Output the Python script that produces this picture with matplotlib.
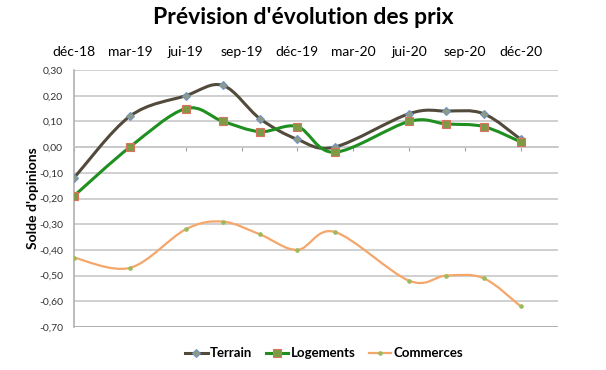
import numpy as np
import matplotlib.pyplot as plt
from matplotlib.path import Path
from matplotlib.patches import PathPatch
from matplotlib.lines import Line2D

plt.rcParams['font.family'] = ['Lato', 'DejaVu Sans']

# months since déc-18
months = [0, 3, 6, 8, 10, 12, 14, 18, 20, 22, 24]
terrain = [-0.12, 0.12, 0.20, 0.24, 0.11, 0.03, 0.00, 0.13, 0.14, 0.13, 0.03]
logements = [-0.19, 0.00, 0.15, 0.10, 0.06, 0.08, -0.02, 0.10, 0.09, 0.08, 0.02]
commerces = [-0.43, -0.47, -0.32, -0.29, -0.34, -0.40, -0.33, -0.52, -0.50, -0.51, -0.62]

tick_months = [0, 3, 6, 9, 12, 15, 18, 21, 24]
tick_labels = ['déc-18', 'mar-19', 'jui-19', 'sep-19', 'déc-19',
               'mar-20', 'jui-20', 'sep-20', 'déc-20']
y_ticks = [-0.70, -0.60, -0.50, -0.40, -0.30, -0.20, -0.10, 0.00, 0.10, 0.20, 0.30]


def smooth_path(x, y):
    # Excel-style smoothed line: cubic Bezier through every point
    pts = np.column_stack([x, y]).astype(float)
    n = len(pts)
    verts = [pts[0]]
    codes = [Path.MOVETO]
    for i in range(n - 1):
        p0 = pts[max(i - 1, 0)]
        p1 = pts[i]
        p2 = pts[i + 1]
        p3 = pts[min(i + 2, n - 1)]
        c1 = p1 + (p2 - p0) / 6
        c2 = p2 - (p3 - p1) / 6
        verts += [c1, c2, p2]
        codes += [Path.CURVE4] * 3
    return Path(verts, codes)


fig = plt.figure(figsize=(6.06, 3.70), dpi=100)
ax = fig.add_axes([74 / 606, 1 - 327 / 370, 484 / 606, 257 / 370])

series = [
    ('Terrain', terrain, '#524a3a', 2.2, 'D', 4.5, '#8f9a80', '#6f95c4'),
    ('Logements', logements, '#1f8f1f', 2.2, 's', 6, '#7f9a45', '#d9735f'),
    ('Commerces', commerces, '#f5a66a', 1.6, 'o', 2.5, '#9bbb59', '#9bbb59'),
]

handles = []
for name, vals, col, lw, mk, ms, mfc, mec in series:
    ax.add_patch(PathPatch(smooth_path(months, vals), facecolor='none',
                           edgecolor=col, lw=lw, zorder=3))
    ax.plot(months, vals, ls='none', marker=mk, ms=ms, mfc=mfc, mec=mec,
            mew=0.8, zorder=4)
    handles.append(Line2D([], [], color=col, lw=lw, marker=mk, ms=ms,
                          mfc=mfc, mec=mec, mew=0.8))

ax.set_xlim(0, 26)
ax.set_ylim(-0.70, 0.30)
ax.set_yticks(y_ticks)
ax.set_yticklabels([f'{v:.2f}'.replace('.', ',') for v in y_ticks],
                   fontsize=7.5, color='#333333')
ax.set_xticks(tick_months)
ax.set_xticklabels(tick_labels, fontsize=7.5, color='#333333')
ax.tick_params(axis='x', labelbottom=False, labeltop=True, top=False,
               bottom=True, direction='out', length=3, color='#a0a0a0', pad=6)
ax.tick_params(axis='y', length=0, pad=8)

ax.grid(axis='y', color='#c8c8c8', lw=1.2)
ax.set_axisbelow(True)
for s in ['top', 'right']:
    ax.spines[s].set_visible(False)
ax.spines['left'].set_color('#b0b0b0')
ax.spines['left'].set_linewidth(1.2)
ax.spines['bottom'].set_position(('data', 0))
ax.spines['bottom'].set_color('#c8c8c8')
ax.spines['bottom'].set_linewidth(1.2)
ax.axhline(-0.70, color='#b0b0b0', lw=1.4, zorder=1)

ax.set_ylabel("Solde d'opinions", fontsize=10, fontweight='bold', labelpad=0)

fig.suptitle("Prévision d'évolution des prix", fontsize=16.5, fontweight='bold',
             x=0.5, y=0.98)

fig.legend(handles, ['Terrain', 'Logements', 'Commerces'], loc='center',
           bbox_to_anchor=(0.535, 0.045), ncol=3, frameon=False,
           handlelength=1.7, handletextpad=0.2, columnspacing=1.0,
           prop={'weight': 'bold', 'size': 9.5})

fig.savefig('out.png', dpi=100)
